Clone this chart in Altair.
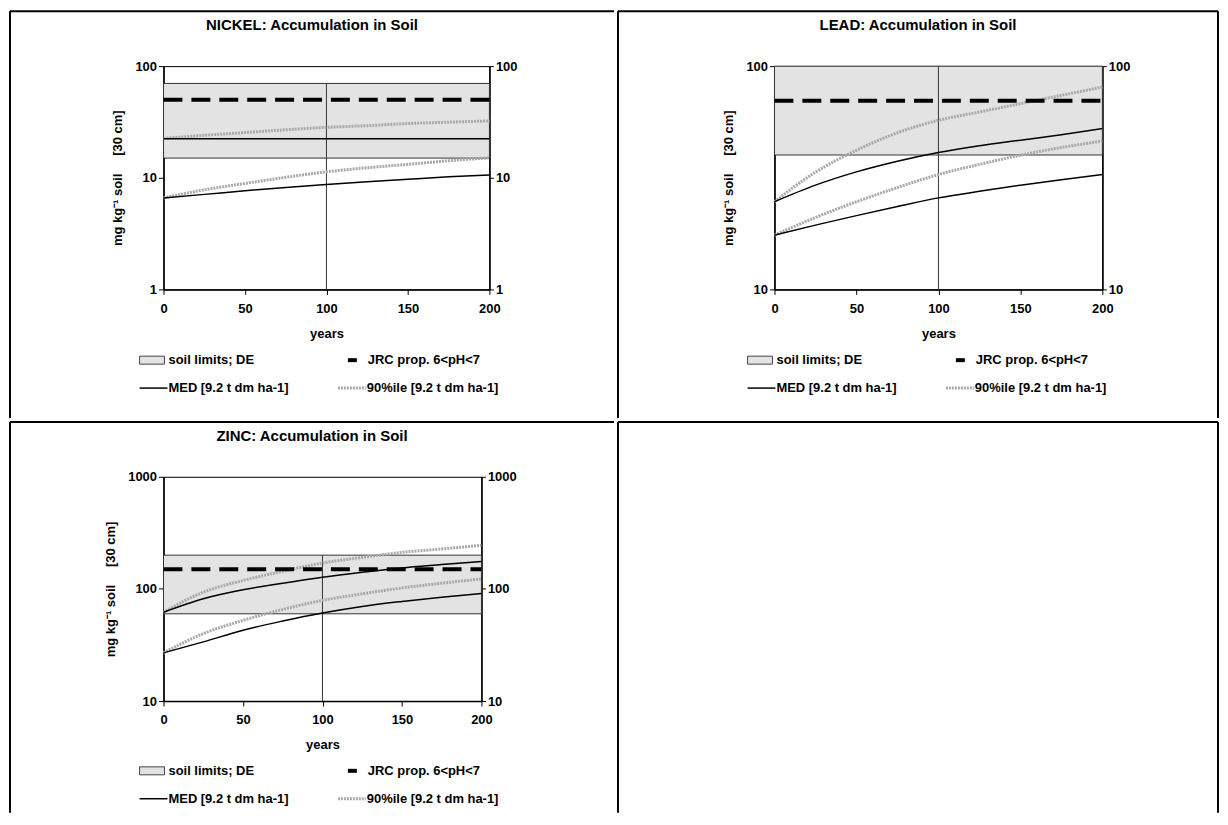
import altair as alt
import pandas as pd

# ---------------- data ----------------
YEARS = [0, 25, 50, 75, 100, 125, 150, 175, 200]
X_TICKS = [0, 50, 100, 150, 200]

NI_MED_A = [22.4, 22.4, 22.4, 22.4, 22.4, 22.4, 22.4, 22.4, 22.4]
NI_MED_B = [6.6, 7.1, 7.65, 8.2, 8.7, 9.2, 9.7, 10.2, 10.6]
NI_P90_A = [22.5, 24.0, 25.4, 26.9, 28.3, 29.3, 30.6, 31.5, 32.3]
NI_P90_B = [6.6, 7.8, 8.9, 10.1, 11.3, 12.3, 13.2, 14.2, 15.1]
NI_LIMITS = [15, 70]
NI_JRC = 50
NI_DOMAIN = [1, 100]
NI_TICKS = [1, 10, 100]

PB_MED_A = [24.7, 29.3, 33.6, 37.5, 41.0, 44.0, 46.6, 49.3, 52.5]
PB_MED_B = [17.5, 19.4, 21.4, 23.5, 25.7, 27.5, 29.3, 31.0, 32.7]
PB_P90_A = [24.7, 33.5, 42.0, 50.3, 57.2, 62.3, 67.9, 74.0, 80.6]
PB_P90_B = [17.5, 21.0, 24.7, 28.6, 32.7, 36.3, 39.9, 43.2, 46.2]
PB_LIMITS = [40, 100]
PB_JRC = 70
PB_DOMAIN = [10, 100]
PB_TICKS = [10, 100]

ZN_MED_A = [62, 81.7, 98.2, 112.4, 127, 140.6, 153.8, 164.7, 176]
ZN_MED_B = [26.9, 33.7, 42.8, 51.7, 61, 69.8, 77.3, 84.4, 91]
ZN_P90_A = [62, 93.5, 118.8, 143.6, 170, 191, 212, 227, 245]
ZN_P90_B = [26.9, 39.9, 52.4, 65.6, 79, 90.4, 102, 112.4, 123]
ZN_LIMITS = [60, 200]
ZN_JRC = 150
ZN_DOMAIN = [10, 1000]
ZN_TICKS = [10, 100, 1000]

TITLES = ["NICKEL: Accumulation in Soil", "LEAD: Accumulation in Soil", "ZINC: Accumulation in Soil"]
LEGEND_LABELS = ["soil limits; DE", "JRC prop. 6<pH<7", "MED [9.2 t dm ha-1]", "90%ile [9.2 t dm ha-1]"]
NB = "\u00a0"
Y_TITLE = "mg kg\u207b\u00b9 soil" + NB * 5 + "[30 cm]"
X_TITLE = "years"
DROP_YEAR = 100

# ---------------- style ----------------
FONT = "Liberation Sans"
GREY_FILL = "#e3e3e3"
P90_COLOR = "#a9a9a9"
ONE = pd.DataFrame({"k": [0]})


def rule(x1, y1, x2, y2, color="black", width=2.0, dash=None):
    kw = dict(color=color, strokeWidth=width)
    if dash:
        kw["strokeDash"] = dash
    return alt.Chart(ONE).mark_rule(**kw).encode(
        x=alt.value(x1), y=alt.value(y1), x2=alt.value(x2), y2=alt.value(y2)
    )


def text(label, x, y, size=13, align="left"):
    return alt.Chart(pd.DataFrame({"t": [label]})).mark_text(
        align=align, baseline="middle", font=FONT, fontWeight="bold",
        fontSize=size, color="black"
    ).encode(x=alt.value(x), y=alt.value(y), text="t:N")


def cell_frame(cell, origin, sides):
    cl, ct, cr, cb = cell
    ox, oy = origin
    L, T, R, B = cl - ox, ct - oy, cr - ox, cb - oy
    layers = [
        alt.Chart(ONE).mark_rect(opacity=0).encode(
            x=alt.value(L), x2=alt.value(R), y=alt.value(T), y2=alt.value(B)
        )
    ]
    if "top" in sides:
        layers.append(rule(L + 1, T + 1, R - 1, T + 1))
    if "left" in sides:
        layers.append(rule(L + 1, T + 1, L + 1, B - 1))
    if "right" in sides:
        layers.append(rule(R - 1, T + 1, R - 1, B - 1))
    return layers


def legend(cell, origin):
    cl, ct, cr, cb = cell
    ox, oy = origin
    r1 = ct + 351 - oy
    r2 = ct + 379 - oy
    X = lambda v: cl + v - ox
    box = alt.Chart(ONE).mark_rect(fill=GREY_FILL, stroke="#444444", strokeWidth=1).encode(
        x=alt.value(X(131)), x2=alt.value(X(156)), y=alt.value(r1 - 4), y2=alt.value(r1 + 4)
    )
    return [
        box,
        text(LEGEND_LABELS[0], X(160), r1),
        rule(X(340), r1, X(349), r1, width=4),
        text(LEGEND_LABELS[1], X(360), r1),
        rule(X(131), r2, X(159), r2, width=1.5),
        text(LEGEND_LABELS[2], X(160), r2),
        rule(X(330), r2, X(358), r2, color=P90_COLOR, width=3, dash=[2, 1]),
        text(LEGEND_LABELS[3], X(359), r2),
    ]


def panel(title, med_a, med_b, p90_a, p90_b, limits, jrc, ydom, yticks, cell, plot, sides):
    cl, ct, cr, cb = cell
    pl, pt, pw, ph = plot
    origin = (pl, pt)
    xsc = alt.Scale(domain=[0, 200], nice=False, zero=False)
    ysc = alt.Scale(type="log", domain=ydom, nice=False)
    xax = alt.Axis(values=X_TICKS, title=X_TITLE, labelFlush=False, labelPadding=8,
                   titlePadding=12, tickSize=5, format="d", labelOverlap=False)
    yax = alt.Axis(values=yticks, title=Y_TITLE, orient="left", labelFlush=False,
                   labelPadding=2, titlePadding=10, tickSize=5, format="d", labelOverlap=False)
    yax_r = alt.Axis(values=yticks, title=None, orient="right", labelFlush=False,
                     labelPadding=2, tickSize=4, format="d", labelOverlap=False)

    band = pd.DataFrame({"x0": [0], "x1": [200], "lo": [limits[0]], "hi": [limits[1]],
                         "xm": [DROP_YEAR], "ymin": [ydom[0]], "jrc": [jrc]})
    med = pd.DataFrame({"year": YEARS * 2, "value": med_a + med_b,
                        "curve": ["a"] * len(YEARS) + ["b"] * len(YEARS)})
    p90 = pd.DataFrame({"year": YEARS * 2, "value": p90_a + p90_b,
                        "curve": ["a"] * len(YEARS) + ["b"] * len(YEARS)})

    band_l = alt.Chart(band).mark_rect(fill=GREY_FILL, stroke="#333333", strokeWidth=1).encode(
        x=alt.X("x0:Q", scale=xsc, axis=xax), x2="x1:Q",
        y=alt.Y("lo:Q", scale=ysc, axis=yax), y2="hi:Q")
    drop_l = alt.Chart(band).mark_rule(color="#333333", strokeWidth=1).encode(
        x=alt.X("xm:Q", scale=xsc, axis=xax),
        y=alt.Y("hi:Q", scale=ysc, axis=yax), y2="ymin:Q")
    p90_l = alt.Chart(p90).mark_line(color=P90_COLOR, strokeWidth=3, strokeDash=[2, 1],
                                     interpolate="monotone").encode(
        x=alt.X("year:Q", scale=xsc, axis=xax),
        y=alt.Y("value:Q", scale=ysc, axis=yax), detail="curve:N")
    med_l = alt.Chart(med).mark_line(color="black", strokeWidth=1.5,
                                     interpolate="monotone").encode(
        x=alt.X("year:Q", scale=xsc, axis=xax),
        y=alt.Y("value:Q", scale=ysc, axis=yax), detail="curve:N")
    jrc_l = alt.Chart(band).mark_rule(color="black", strokeWidth=4, strokeDash=[19, 9]).encode(
        x=alt.X("x0:Q", scale=xsc, axis=xax), x2="x1:Q",
        y=alt.Y("jrc:Q", scale=ysc, axis=yax))

    title_l = text(title, (cl + cr) / 2 - pl, ct + 15 - pt, size=15, align="center")

    layers = cell_frame(cell, origin, sides) + [band_l, drop_l, p90_l, med_l, jrc_l, title_l] + legend(cell, origin)
    main = alt.layer(*layers)

    right = alt.Chart(med).mark_point(opacity=0).encode(
        x=alt.X("year:Q", scale=xsc, axis=xax),
        y=alt.Y("value:Q", scale=ysc, axis=yax_r))

    return alt.layer(main, right).resolve_scale(y="independent").properties(width=pw, height=ph)


CELL_A = (8, 8, 616, 418)
CELL_B = (616, 8, 1220, 418)
CELL_C = (8, 418, 616, 812)
CELL_D = (616, 418, 1220, 812)

# identical plot offsets inside every cell of a column so the grid aligns cleanly
LEFT_OFF_1, LEFT_OFF_2, TOP_OFF = 155, 158, 56

A = panel(TITLES[0], NI_MED_A, NI_MED_B, NI_P90_A, NI_P90_B, NI_LIMITS, NI_JRC,
          NI_DOMAIN, NI_TICKS, CELL_A,
          (CELL_A[0] + LEFT_OFF_1, CELL_A[1] + TOP_OFF, 327, 224), ["top", "left"])
B = panel(TITLES[1], PB_MED_A, PB_MED_B, PB_P90_A, PB_P90_B, PB_LIMITS, PB_JRC,
          PB_DOMAIN, PB_TICKS, CELL_B,
          (CELL_B[0] + LEFT_OFF_2, CELL_B[1] + TOP_OFF, 329, 224), ["top", "left", "right"])
C = panel(TITLES[2], ZN_MED_A, ZN_MED_B, ZN_P90_A, ZN_P90_B, ZN_LIMITS, ZN_JRC,
          ZN_DOMAIN, ZN_TICKS, CELL_C,
          (CELL_C[0] + LEFT_OFF_1, CELL_C[1] + TOP_OFF, 319, 225), ["top", "left"])

D_origin = (CELL_D[0] + LEFT_OFF_2, CELL_D[1] + TOP_OFF)
D = alt.layer(*cell_frame(CELL_D, D_origin, ["top", "left", "right"])).properties(
    width=1, height=1, view=alt.ViewBackground(strokeOpacity=0))

chart = alt.concat(
    A, B, C, D, columns=2, spacing=0, bounds="full"
).properties(padding=0).configure_view(
    stroke="black", strokeWidth=1
).configure_axis(
    labelFont=FONT, labelFontWeight="bold", labelFontSize=13, labelColor="black",
    titleFont=FONT, titleFontWeight="bold", titleFontSize=13, titleColor="black",
    domainColor="black", domainWidth=1.5, tickColor="black", tickWidth=1, grid=False,
)

chart.save("out.html", embed_options={"renderer": "svg", "actions": False})
